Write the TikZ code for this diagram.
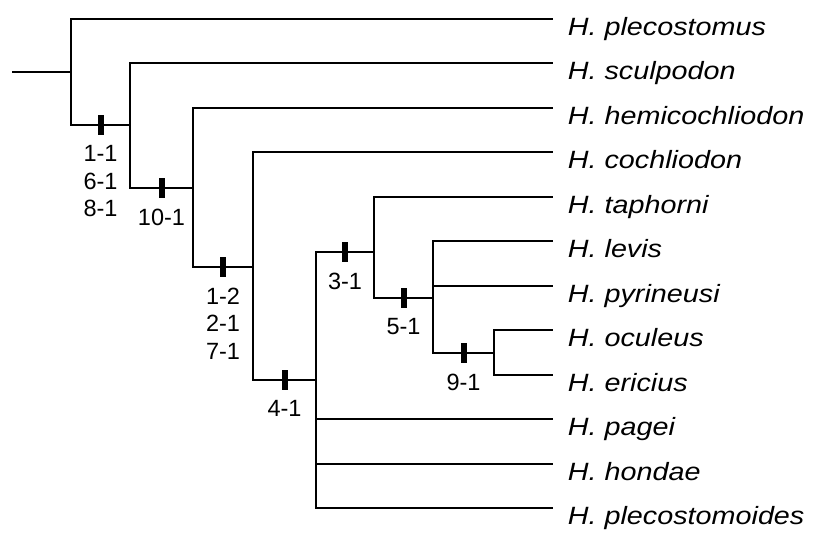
\documentclass[tikz,border=0pt]{standalone}
\usepackage{fontspec}
\setsansfont{Liberation Sans}
\newfontfamily\taxonfont[FakeStretch=1.15]{Liberation Sans}
\usetikzlibrary{positioning}

\begin{document}
\begin{tikzpicture}[x=1pt,y=-1pt,line width=1.8pt,
  charbar/.style={rectangle,fill=black,draw=none,inner sep=0pt,minimum width=6pt,minimum height=20pt},
  chars/.style={align=center,inner sep=0pt,font=\sffamily\fontsize{23.5}{27.5}\selectfont},
  taxon/.style={anchor=base west,inner sep=0pt,font=\taxonfont\itshape\fontsize{25}{30}\selectfont}]
\useasboundingbox (0,0) rectangle (813,533);
% internal nodes
\coordinate (root) at (12,72);
\coordinate (n0) at (71,72);
\coordinate (n1) at (130,125);
\coordinate (n2) at (193,188);
\coordinate (n3) at (253,267);
\coordinate (n4) at (316,380);
\coordinate (n5) at (374,252);
\coordinate (n6) at (433,298);
\coordinate (n7) at (494,353);
% tips
\coordinate (t1) at (553,19);
\coordinate (t2) at (553,63);
\coordinate (t3) at (553,108);
\coordinate (t4) at (553,152);
\coordinate (t5) at (553,197);
\coordinate (t6) at (553,241);
\coordinate (t7) at (553,286);
\coordinate (t8) at (553,330);
\coordinate (t9) at (553,375);
\coordinate (t10) at (553,419);
\coordinate (t11) at (553,464);
\coordinate (t12) at (553,508);
\node[taxon] (plec) at ([xshift=14pt,yshift=-16pt]t1) {H. plecostomus};
\node[taxon] (sculp) at ([xshift=14pt,yshift=-16pt]t2) {H. sculpodon};
\node[taxon] (hemi) at ([xshift=14pt,yshift=-16pt]t3) {H. hemicochliodon};
\node[taxon] (coch) at ([xshift=14pt,yshift=-16pt]t4) {H. cochliodon};
\node[taxon] (taph) at ([xshift=14pt,yshift=-16pt]t5) {H. taphorni};
\node[taxon] (levis) at ([xshift=14pt,yshift=-16pt]t6) {H. levis};
\node[taxon] (pyri) at ([xshift=14pt,yshift=-16pt]t7) {H. pyrineusi};
\node[taxon] (ocul) at ([xshift=14pt,yshift=-16pt]t8) {H. oculeus};
\node[taxon] (eric) at ([xshift=14pt,yshift=-16pt]t9) {H. ericius};
\node[taxon] (pagei) at ([xshift=14pt,yshift=-16pt]t10) {H. pagei};
\node[taxon] (hond) at ([xshift=14pt,yshift=-16pt]t11) {H. hondae};
\node[taxon] (plecm) at ([xshift=14pt,yshift=-16pt]t12) {H. plecostomoides};
% branches
\draw (root) -- (n0);
\draw (n0) |- (t1);
\draw (n0) |- (n1) node[charbar,pos=0.75] (c1) {};
\draw (n1) |- (t2);
\draw (n1) |- (n2) node[charbar,pos=0.75] (c2) {};
\draw (n2) |- (t3);
\draw (n2) |- (n3) node[charbar,pos=0.75] (c3) {};
\draw (n3) |- (t4);
\draw (n3) |- (n4) node[charbar,pos=0.75] (c4) {};
\draw (n4) |- (n5) node[charbar,pos=0.75] (c5) {};
\draw (n4) |- (t10);
\draw (n4) |- (t11);
\draw (n4) |- (t12);
\draw (n5) |- (t5);
\draw (n5) |- (n6) node[charbar,pos=0.75] (c6) {};
\draw (n6) |- (t6);
\draw (n6) |- (t7);
\draw (n6) |- (n7) node[charbar,pos=0.75] (c7) {};
\draw (n7) |- (t8);
\draw (n7) |- (t9);
% character changes
\node[chars,below=9pt of c1] {1-1\\6-1\\8-1};
\node[chars,below=9pt of c2] {10-1};
\node[chars,below=9pt of c3] {1-2\\2-1\\7-1};
\node[chars,below=9pt of c4] {4-1};
\node[chars,below=9pt of c5] {3-1};
\node[chars,below=9pt of c6] {5-1};
\node[chars,below=9pt of c7] {9-1};
\end{tikzpicture}
\end{document}
